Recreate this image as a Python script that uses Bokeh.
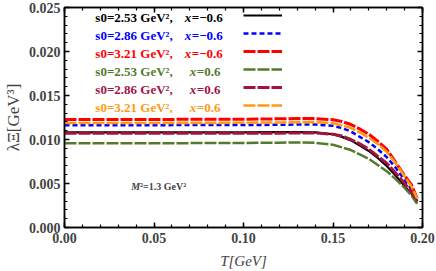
from bokeh.plotting import figure
from bokeh.models import LinearAxis, FixedTicker, Label, Legend, LegendItem, Range1d
from bokeh.embed import file_html
from bokeh.resources import INLINE

# ---- data ----
T = [0.0, 0.05, 0.10, 0.12, 0.13, 0.14, 0.15, 0.155, 0.16, 0.165, 0.17,
     0.175, 0.18, 0.185, 0.19, 0.194, 0.197]

lam_s253_xm06 = [0.01081, 0.01081, 0.01082, 0.01083, 0.01083, 0.01080, 0.01060, 0.01030,
                 0.00990, 0.00930, 0.00870, 0.00790, 0.00700, 0.00590, 0.00470, 0.00380, 0.00290]
lam_s286_xm06 = [0.01163, 0.01163, 0.01165, 0.01167, 0.01170, 0.01170, 0.01155, 0.01130,
                 0.01090, 0.01030, 0.00970, 0.00890, 0.00800, 0.00680, 0.00540, 0.00430, 0.00310]
lam_s321_xm06 = [0.01227, 0.01228, 0.01231, 0.01235, 0.01238, 0.01238, 0.01225, 0.01205,
                 0.01170, 0.01120, 0.01060, 0.00980, 0.00890, 0.00740, 0.00590, 0.00480, 0.00330]
lam_s253_xp06 = [0.00957, 0.00958, 0.00960, 0.00964, 0.00966, 0.00962, 0.00940, 0.00910,
                 0.00880, 0.00830, 0.00780, 0.00710, 0.00640, 0.00550, 0.00450, 0.00360, 0.00270]
lam_s286_xp06 = [0.01070, 0.01070, 0.01071, 0.01072, 0.01075, 0.01074, 0.01060, 0.01040,
                 0.01000, 0.00950, 0.00890, 0.00810, 0.00730, 0.00620, 0.00500, 0.00400, 0.00300]
lam_s321_xp06 = [0.01188, 0.01188, 0.01190, 0.01194, 0.01198, 0.01198, 0.01185, 0.01160,
                 0.01130, 0.01080, 0.01020, 0.00950, 0.00860, 0.00730, 0.00580, 0.00460, 0.00330]

series_s0 = ["s0=2.53 GeV\u00b2,", "s0=2.86 GeV\u00b2,", "s0=3.21 GeV\u00b2,",
             "s0=2.53 GeV\u00b2,", "s0=2.86 GeV\u00b2,", "s0=3.21 GeV\u00b2,"]
series_x = ["=\u22120.6", "=\u22120.6", "=\u22120.6", "=0.6", "=0.6", "=0.6"]

x_ticks = [0.0, 0.05, 0.10, 0.15, 0.20]
x_tick_labels = ["0.00", "0.05", "0.10", "0.15", "0.20"]
y_ticks = [0.0, 0.005, 0.010, 0.015, 0.020, 0.025]
y_tick_labels = ["0.000", "0.005", "0.010", "0.015", "0.020", "0.025"]

# ---- styles ----
colors = ["#000000", "#0000ff", "#ff0000", "#557a2c", "#a3133f", "#ff9a14"]
dashes = ["solid", "5 3", "12 2", "12 2", "12 2", "12 2"]
widths = [2.2, 2.5, 3.0, 2.5, 3.0, 2.6]
SERIF = "Liberation Serif"
XPX = 0.2 / 360.0  # data units per frame pixel (horizontal)

p = figure(width=436, height=271, x_range=Range1d(0, 0.2), y_range=Range1d(0, 0.025),
           output_backend="svg", toolbar_location=None,
           min_border_left=62, min_border_right=14, min_border_top=7, min_border_bottom=42)
p.grid.visible = False
p.outline_line_color = "black"
p.outline_line_width = 1.5
p.background_fill_color = "white"
p.border_fill_color = "white"

xt = FixedTicker(ticks=x_ticks, minor_ticks=[i * 0.01 for i in range(21)])
yt = FixedTicker(ticks=y_ticks, minor_ticks=[i * 0.001 for i in range(26)])

def style_axis(ax):
    ax.major_tick_in = 5
    ax.major_tick_out = 0
    ax.minor_tick_in = 3
    ax.minor_tick_out = 0
    ax.axis_line_width = 1.5
    ax.major_tick_line_width = 1.5
    ax.minor_tick_line_width = 1.2
    ax.major_label_text_font = SERIF
    ax.major_label_text_font_style = "bold"
    ax.major_label_text_font_size = "14px"

p.xaxis.ticker = xt
p.yaxis.ticker = yt
p.xaxis.major_label_overrides = {t: l for t, l in zip(x_ticks, x_tick_labels)}
p.yaxis.major_label_overrides = {t: l for t, l in zip(y_ticks, y_tick_labels)}
style_axis(p.xaxis[0])
style_axis(p.yaxis[0])
p.xaxis.major_label_standoff = 5
p.yaxis.major_label_standoff = 4
p.xaxis.axis_label = "T[GeV]"
p.xaxis.axis_label_text_font = SERIF
p.xaxis.axis_label_text_font_style = "italic"
p.xaxis.axis_label_text_font_size = "15px"
p.xaxis.axis_label_standoff = 7
p.yaxis.axis_label = "\u03bb\u039e[GeV\u00b3]"
p.yaxis.axis_label_text_font = SERIF
p.yaxis.axis_label_text_font_style = "normal"
p.yaxis.axis_label_text_font_size = "17px"
p.yaxis.axis_label_standoff = 3

top_ax = LinearAxis(ticker=xt, major_label_overrides={t: "" for t in x_ticks})
style_axis(top_ax)
top_ax.major_label_standoff = 0
right_ax = LinearAxis(ticker=yt, major_label_overrides={t: "" for t in y_ticks})
style_axis(right_ax)
right_ax.major_label_standoff = 0
p.add_layout(top_ax, "above")
p.add_layout(right_ax, "right")

all_series = [lam_s253_xm06, lam_s286_xm06, lam_s321_xm06,
              lam_s253_xp06, lam_s286_xp06, lam_s321_xp06]
renderers = []
for ys, c, d, w in zip(all_series, colors, dashes, widths):
    r = p.line(T, ys, line_color=c, line_dash=d, line_width=w)
    renderers.append(r)

# legend samples (glyphs only; the texts are drawn as labels to their left)
legend = Legend(items=[LegendItem(label="", renderers=[r]) for r in renderers],
                location=(179, 113), glyph_width=39, glyph_height=18, label_height=18,
                label_width=0, label_standoff=0, spacing=0, padding=0, margin=0,
                border_line_color=None, background_fill_alpha=0,
                label_text_font_size="1px")
p.add_layout(legend)

rows = [10, 28, 46, 64, 82, 100]
for i, (s, xs, c) in enumerate(zip(series_s0, series_x, colors)):
    p.add_layout(Label(x=31 * XPX, y=0.025, y_offset=-rows[i], text=s,
                       text_color=c, text_font=SERIF, text_font_style="bold",
                       text_font_size="13px", text_baseline="middle", text_align="left"))
    x0 = 121 if i < 3 else 126
    p.add_layout(Label(x=x0 * XPX, y=0.025, y_offset=-rows[i], text="x",
                       text_color=c, text_font=SERIF, text_font_style="bold italic",
                       text_font_size="13px", text_baseline="middle", text_align="left"))
    p.add_layout(Label(x=(x0 + 7) * XPX, y=0.025, y_offset=-rows[i], text=xs,
                       text_color=c, text_font=SERIF, text_font_style="bold",
                       text_font_size="13px", text_baseline="middle", text_align="left"))

# M^2 annotation
p.add_layout(Label(x=67 * XPX, y=0, y_offset=41, text="M", text_font=SERIF,
                   text_font_style="bold italic", text_font_size="10px",
                   text_baseline="middle", text_align="left"))
p.add_layout(Label(x=76 * XPX, y=0, y_offset=41, text="\u00b2=1.3 GeV\u00b2",
                   text_font=SERIF, text_font_style="bold", text_font_size="10px",
                   text_baseline="middle", text_align="left"))

open("out.html", "w").write(file_html(p, INLINE))
